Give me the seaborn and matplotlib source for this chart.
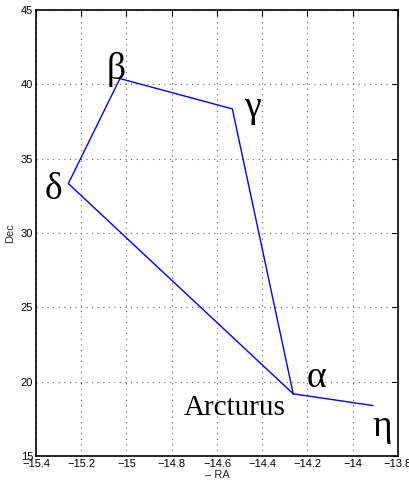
import matplotlib
matplotlib.use("Agg")
from matplotlib import pyplot as plt
import seaborn as sns
import pandas as pd

# star positions (path order: eta -> alpha -> delta -> beta -> gamma -> alpha)
ra = [-13.91, -14.263, -15.257, -15.029, -14.532, -14.263]
dec = [18.39, 19.18, 33.32, 40.38, 38.34, 19.18]

greek_text = ["\u03b2", "\u03b3", "\u03b4", "\u03b1", "\u03b7"]
greek_x = [-15.046, -14.444, -15.323, -14.161, -13.869]
greek_y = [40.97, 38.39, 32.90, 20.23, 16.94]

name_text = "Arcturus"
name_x = -14.520
name_y = 18.23

x_ticks = [-15.4, -15.2, -15.0, -14.8, -14.6, -14.4, -14.2, -14.0, -13.8]
x_tick_labels = ["-15.4", "-15.2", "-15", "-14.8", "-14.6", "-14.4", "-14.2", "-14", "-13.8"]
y_ticks = [15, 20, 25, 30, 35, 40, 45]

sns.set_style("white")
plt.rcParams['font.family'] = ['Liberation Sans Narrow', 'Liberation Sans', 'DejaVu Sans']
plt.rcParams['axes.unicode_minus'] = True

df = pd.DataFrame({"ra": ra, "dec": dec})

fig = plt.figure(figsize=(4.09, 4.99), dpi=100)
ax = fig.add_axes([0.088, 0.0862, 0.885, 0.894])

sns.lineplot(data=df, x="ra", y="dec", sort=False, estimator=None,
             color="blue", linewidth=1.0, ax=ax)

serif = ['Liberation Serif', 'DejaVu Serif']
for txt, tx, ty in zip(greek_text, greek_x, greek_y):
    ax.text(tx, ty, txt, ha="center", va="center", fontsize=27,
            family=serif, color="black")
ax.text(name_x, name_y, name_text, ha="center", va="center", fontsize=21,
        family=serif, color="black")

ax.set_xlim(-15.4, -13.8)
ax.set_ylim(15, 45)
ax.set_xticks(x_ticks)
ax.set_xticklabels([t.replace("-", "\u2212") for t in x_tick_labels])
ax.set_yticks(y_ticks)

ax.grid(True, color="#666666", linestyle=(0, (1, 4)), linewidth=0.8)
ax.tick_params(direction="in", top=True, right=True, length=4, width=0.8,
               labelsize=8, pad=2, colors="black")
for side in ax.spines.values():
    side.set_color("black")
    side.set_linewidth(1.2)

ax.set_xlabel("\u2013 RA", fontsize=8, labelpad=1)
ax.set_ylabel("Dec", fontsize=8, labelpad=4)

fig.savefig("out.png", dpi=100)
